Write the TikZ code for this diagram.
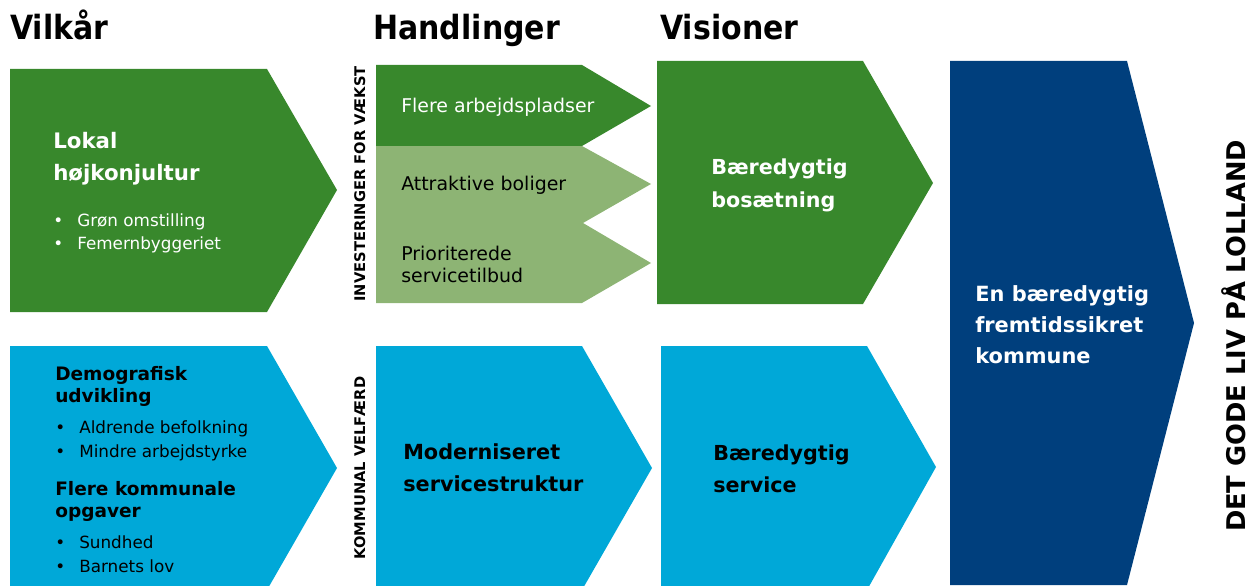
\documentclass[tikz,border=0pt]{standalone}
\usepackage{fontspec}
\setmainfont{DejaVu Sans}
\newfontfamily\headfont[FakeStretch=0.9]{DejaVu Sans}
\definecolor{dgreen}{HTML}{38882C}
\definecolor{lgreen}{HTML}{8DB474}
\definecolor{cblue}{HTML}{00A8D8}
\definecolor{navy}{HTML}{003F7D}
\begin{document}
\begin{tikzpicture}[x=0.75pt,y=-0.75pt,
  txt/.style={anchor=base west, inner sep=0pt},
  head/.style={txt, font=\headfont\bfseries\fontsize{25}{30}\selectfont},
  ttl/.style={txt, font=\bfseries\fontsize{#1}{#1}\selectfont},
  reg/.style={txt, font=\fontsize{#1}{#1}\selectfont},
  vlab/.style={anchor=base, inner sep=0pt, rotate=90, font=\bfseries\fontsize{#1}{#1}\selectfont}]
\useasboundingbox (0,0) rectangle (1255,585);
\clip (0,0) rectangle (1255,585);
% shapes
\fill[dgreen] (10,69) -- (267,69) -- (337,190) -- (267,312) -- (10,312) -- cycle;
\fill[cblue] (10,346) -- (267,346) -- (337,468) -- (267,590) -- (10,590) -- cycle;
\fill[dgreen] (376,65) -- (582,65) -- (651,106) -- (582,146) -- (376,146) -- cycle;
\fill[lgreen] (376,146) -- (582,146) -- (651,184) -- (583,223) -- (651,263) -- (582,303) -- (376,303) -- cycle;
\fill[cblue] (376,346) -- (582,346) -- (652,468) -- (582,590) -- (376,590) -- cycle;
\fill[dgreen] (657,61) -- (863,61) -- (933,183) -- (863,304) -- (657,304) -- cycle;
\fill[cblue] (661,346) -- (867,346) -- (936,467) -- (867,590) -- (661,590) -- cycle;
\fill[navy] (950,61) -- (1127,61) -- (1194,323) -- (1127,585) -- (950,585) -- cycle;
% headings
\node[head] (h1) at (10,40) {Vilkår};
\node[head] (h2) at (373,40) {Handlinger};
\node[head] (h3) at (660,40) {Visioner};
% Vilkaar top
\node[ttl=16, white] (lk1) at (53,148) {Lokal};
\node[ttl=16, white] (lk2) at (53,180) {højkonjultur};
\node[reg=12.6, white] (b1) at (53,226) {•};
\node[reg=12.6, white] (t1) at (77,226) {Grøn omstilling};
\node[reg=12.6, white] (b2) at (53,249) {•};
\node[reg=12.6, white] (t2) at (77,249) {Femernbyggeriet};
% Vilkaar bottom
\node[ttl=13.9] (d1) at (55,380) {Demografisk};
\node[ttl=13.9] (d2) at (55,402) {udvikling};
\node[reg=12.6] (b3) at (55,433) {•};
\node[reg=12.6] (t3) at (79,433) {Aldrende befolkning};
\node[reg=12.6] (b4) at (55,457) {•};
\node[reg=12.6] (t4) at (79,457) {Mindre arbejdstyrke};
\node[ttl=13.9] (f1) at (55,495) {Flere kommunale};
\node[ttl=13.9] (f2) at (55,517) {opgaver};
\node[reg=12.6] (b5) at (55,548) {•};
\node[reg=12.6] (t5) at (79,548) {Sundhed};
\node[reg=12.6] (b6) at (55,572) {•};
\node[reg=12.6] (t6) at (79,572) {Barnets lov};
% vertical labels
\node[vlab=11] (v1) at (365,184) {INVESTERINGER FOR VÆKST};
\node[vlab=11] (v2) at (365,468) {KOMMUNAL VELFÆRD};
% Handlinger
\node[reg=14.2, white] (a1) at (401,112) {Flere arbejdspladser};
\node[reg=14.2] (a2) at (401,190) {Attraktive boliger};
\node[reg=14.2] (a3) at (401,260) {Prioriterede};
\node[reg=14.2] (a4) at (401,282) {servicetilbud};
\node[ttl=15.6] (m1) at (403,459) {Moderniseret};
\node[ttl=15.6] (m2) at (403,491) {servicestruktur};
% Visioner
\node[ttl=15.5, white] (s1) at (711,174) {Bæredygtig};
\node[ttl=15.5, white] (s2) at (711,207) {bosætning};
\node[ttl=15.5] (s3) at (713,460) {Bæredygtig};
\node[ttl=15.5] (s4) at (713,492) {service};
% final
\node[ttl=15.7, white] (e1) at (975,301) {En bæredygtig};
\node[ttl=15.7, white] (e2) at (975,332) {fremtidssikret};
\node[ttl=15.7, white] (e3) at (975,363) {kommune};
\node[vlab=19.3] (dg) at (1245,336) {DET GODE LIV PÅ LOLLAND};
\end{tikzpicture}
\end{document}
